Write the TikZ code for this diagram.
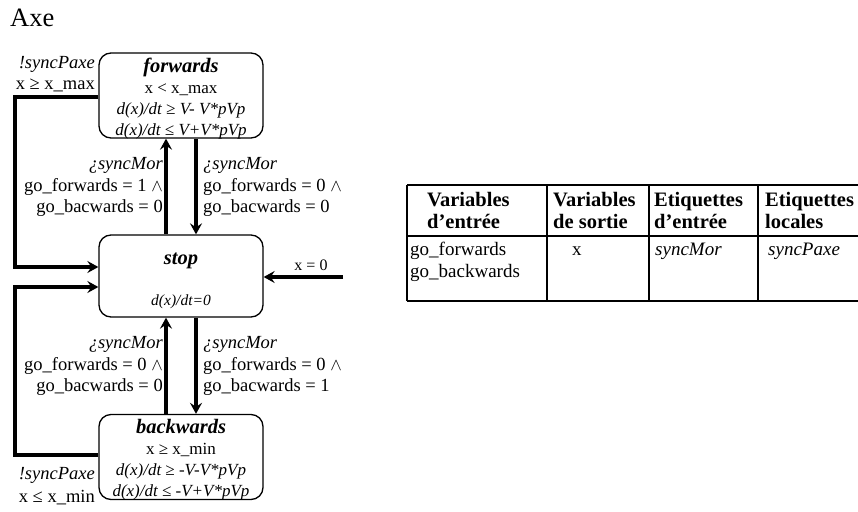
\documentclass[tikz,border=0pt]{standalone}
\usepackage{fontspec}
\setmainfont{Liberation Serif}
\usetikzlibrary{positioning,arrows.meta}
\newcommand\stitle[1]{{\fontsize{20.5}{20.5}\selectfont\textbf{\textit{#1}}}}
\tikzset{
  state/.style={
    draw,
    line width=1.3pt,
    rounded corners=12pt,
    minimum width=164pt,
    inner sep=0pt
  },
  stext/.style={
    align=center,
    inner sep=0pt,
    font=\fontsize{17}{21}\selectfont
  },
  arr/.style={
    line width=3.4pt,
    -{Stealth[length=11pt,width=12pt,inset=4pt]}
  },
  lbl/.style={
    inner sep=0pt,
    font=\fontsize{18.5}{21.5}\selectfont
  },
  cell/.style={
    anchor=base west,
    inner sep=0pt,
    align=left,
    font=\fontsize{19}{22}\selectfont
  },
  head/.style={
    cell,
    font=\bfseries\fontsize{20.5}{22}\selectfont
  },
}
\begin{document}
\begin{tikzpicture}[x=1pt,y=-1pt]
        \useasboundingbox (0,0) rectangle (858,511);
        \node[anchor=base west, inner sep=0pt, font=\fontsize{26.5}{28}\selectfont] (title) at (10,27) {Axe};

        % states
        \node[state, minimum height=85pt] (forwards) at (181,95.5) {};
        \node[stext] (forwardsTxt) at (181,98.5)
          {\stitle{forwards}\\x < x\_max\\\textit{d(x)/dt ≥ V- V*pVp}\\\textit{d(x)/dt ≤ V+V*pVp}};
        \node[state, minimum height=82pt] (stop) at (181,276) {};
        \node[stext] (stopTxt) at (181,280.5)
          {\stitle{stop}\\[20pt]{\fontsize{15.5}{19}\selectfont\textit{d(x)/dt=0}}};
        \node[state, minimum height=85pt] (backwards) at (181,457) {};
        \node[stext] (backwardsTxt) at (181,460)
          {\stitle{backwards}\\x ≥ x\_min\\\textit{d(x)/dt ≥ -V-V*pVp}\\\textit{d(x)/dt ≤ -V+V*pVp}};

        % transitions
        \draw[arr] ([xshift=-15pt]stop.north) -- ([xshift=-15pt]forwards.south);
        \draw[arr] ([xshift=15pt]forwards.south) -- ([xshift=15pt]stop.north);
        \draw[arr] ([xshift=-15pt]backwards.north) -- ([xshift=-15pt]stop.south);
        \draw[arr] ([xshift=15pt]stop.south) -- ([xshift=15pt]backwards.north);

        \coordinate (lx) at (15,0);
        \draw[arr] ([yshift=-1.5pt]forwards.west) -- ([yshift=-1.5pt]forwards.west -| lx)
          |- ([yshift=9pt]stop.west);
        \draw[arr] ([yshift=2pt]backwards.west) -- ([yshift=2pt]backwards.west -| lx)
          |- ([yshift=-11pt]stop.west);

        \coordinate (xin) at (343,277);
        \draw[arr] (xin) -- (xin -| stop.east);
        \node[lbl, font=\fontsize{16}{19}\selectfont] (lblx) at (311,265) {x = 0};

        % guards
        \node[lbl, anchor=east, align=right] (lblFmax) at (95,74)
          {\textit{!syncPaxe}\\x ≥ x\_max};
        \node[lbl, anchor=east, align=right] (lblBmin) at (95,486)
          {\textit{!syncPaxe}\\[2pt]x ≤ x\_min};
        \node[lbl, anchor=east, align=right] (lblSF) at (163,187)
          {\textit{¿syncMor}\\go\_forwards = 1 $\wedge$\\go\_bacwards = 0};
        \node[lbl, anchor=west, align=left] (lblFS) at (203,187)
          {\textit{¿syncMor}\\go\_forwards = 0 $\wedge$\\go\_bacwards = 0};
        \node[lbl, anchor=east, align=right] (lblBS) at (163,366)
          {\textit{¿syncMor}\\go\_forwards = 0 $\wedge$\\go\_bacwards = 0};
        \node[lbl, anchor=west, align=left] (lblSB) at (203,366)
          {\textit{¿syncMor}\\go\_forwards = 0 $\wedge$\\go\_bacwards = 1};

        % table
        \draw[line width=1.7pt] (407,185) -- (858,185);
        \draw[line width=1.7pt] (407,236) -- (858,236);
        \draw[line width=1.7pt] (407,301) -- (858,301);
        \foreach \cx in {407,547,649,758}
          \draw[line width=1.3pt] (\cx,185) -- (\cx,301);

        \node[head] (hIn) at (427,228) {Variables\\d’entrée};
        \node[head] (hOut) at (553,228) {Variables\\de sortie};
        \node[head] (hLblIn) at (654,228) {Etiquettes\\d’entrée};
        \node[head] (hLblLoc) at (765,228) {Etiquettes\\locales};

        \node[cell] (cIn) at (410,277) {go\_forwards\\go\_backwards};
        \node[cell] (cOut) at (572,255) {x};
        \node[cell] (cLblIn) at (655,255) {\textit{syncMor}};
        \node[cell] (cLblLoc) at (768,255) {\textit{syncPaxe}};
\end{tikzpicture}
\end{document}
